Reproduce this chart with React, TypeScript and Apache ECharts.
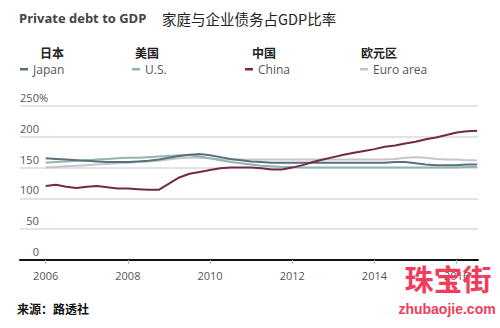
import React, { useEffect, useRef } from "react";
import * as echarts from "echarts";

const quarters = [
  2006, 2006.25, 2006.5, 2006.75, 2007, 2007.25, 2007.5, 2007.75,
  2008, 2008.25, 2008.5, 2008.75, 2009, 2009.25, 2009.5, 2009.75,
  2010, 2010.25, 2010.5, 2010.75, 2011, 2011.25, 2011.5, 2011.75,
  2012, 2012.25, 2012.5, 2012.75, 2013, 2013.25, 2013.5, 2013.75,
  2014, 2014.25, 2014.5, 2014.75, 2015, 2015.25, 2015.5, 2015.75,
  2016, 2016.25, 2016.5,
];

const japan = [
  165, 164, 163, 162, 161, 160, 159, 159,
  159, 160, 161, 163, 166, 169, 171, 172,
  170, 167, 164, 162, 160, 159, 158, 158,
  158, 158, 158, 158, 158, 158, 158, 158,
  158, 158, 159, 159, 157, 155, 154, 154,
  154, 155, 155,
];

const us = [
  158, 159, 160, 161, 162, 163, 164, 165,
  166, 166, 167, 168, 169, 170, 170, 168,
  165, 162, 159, 157, 155, 153, 152, 151,
  151, 150, 150, 150, 150, 150, 150, 150,
  150, 150, 150, 150, 150, 150, 150, 150,
  150, 151, 151,
];

const china = [
  120, 122, 119, 117, 119, 120, 118, 116,
  116, 115, 114, 114, 124, 134, 140, 143,
  146, 149, 150, 150, 150, 149, 147, 147,
  150, 154, 159, 163, 167, 171, 174, 177,
  180, 184, 186, 189, 192, 196, 199, 203,
  207, 209, 210,
];

const euro = [
  150, 151, 152, 153, 154, 155, 156, 157,
  158, 159, 160, 161, 163, 165, 166, 166,
  165, 164, 163, 163, 163, 163, 163, 163,
  163, 163, 163, 163, 163, 163, 163, 163,
  163, 163, 164, 166, 167, 166, 164, 163,
  163, 162, 162,
];

const xTicks = [2006, 2008, 2010, 2012, 2014, 2016];
const legendZh = ["日本", "美国", "中国", "欧元区"];
const legendEn = ["Japan", "U.S.", "China", "Euro area"];
const colors = ["#5b6f7a", "#8fb6b2", "#722a44", "#c6c6c6"];

const FONT = "'Open Sans', 'Noto Sans CJK SC', sans-serif";
const CJK = "'Noto Sans CJK SC', sans-serif";

export default function App() {
  const ref = useRef<HTMLDivElement>(null);

  useEffect(() => {
    const chart = echarts.init(ref.current!, null, { renderer: "svg" });
    const pair = (vals: number[]) => quarters.map((q, i) => [q, vals[i]]);

    const zhX = [52, 147, 264, 379];
    const dashX = [20, 132, 245, 360];
    const graphic: any[] = [
      {
        type: "text",
        x: 19,
        y: 18,
        style: {
          text: "Private debt to GDP",
          fill: "#444",
          fontSize: 13,
          fontWeight: "bold",
          fontFamily: FONT,
          textVerticalAlign: "middle",
        },
      },
      {
        type: "text",
        x: 162,
        y: 18,
        style: {
          text: "家庭与企业债务占GDP比率",
          fill: "#222",
          fontSize: 14.5,
          fontFamily: CJK,
          textVerticalAlign: "middle",
        },
      },
      {
        type: "text",
        x: 17,
        y: 308,
        style: {
          text: "来源：路透社",
          fill: "#111",
          fontSize: 12,
          fontWeight: "bold",
          fontFamily: CJK,
          textVerticalAlign: "middle",
        },
      },
      {
        type: "text",
        x: 448,
        y: 278,
        z: 100,
        style: {
          text: "珠宝街",
          fill: "#ef3d5b",
          fontSize: 29,
          lineHeight: 29,
          fontWeight: "bold",
          fontFamily: CJK,
          textAlign: "center",
          textVerticalAlign: "middle",
        },
      },
      {
        type: "text",
        x: 447,
        y: 309,
        z: 100,
        style: {
          text: "zhubaojie.com",
          fill: "#ef3d5b",
          fontSize: 14,
          lineHeight: 14,
          fontWeight: "bold",
          fontFamily: "'Liberation Sans', Arial, sans-serif",
          textAlign: "center",
          textVerticalAlign: "middle",
        },
      },
    ];
    legendZh.forEach((t, i) => {
      graphic.push({
        type: "text",
        x: zhX[i],
        y: 52,
        style: {
          text: t,
          fill: "#222",
          fontSize: 12,
          fontWeight: "bold",
          fontFamily: CJK,
          textAlign: "center",
          textVerticalAlign: "middle",
        },
      });
      graphic.push({
        type: "rect",
        shape: { x: dashX[i], y: 68, width: 8, height: 2.5 },
        style: { fill: colors[i] },
      });
      graphic.push({
        type: "text",
        x: dashX[i] + 13,
        y: 69.5,
        style: {
          text: legendEn[i],
          fill: "#555",
          fontSize: 12,
          fontFamily: FONT,
          textVerticalAlign: "middle",
        },
      });
    });

    const mk = (name: string, vals: number[], color: string, z: number) => ({
      name,
      type: "line",
      data: pair(vals),
      showSymbol: false,
      symbol: "none",
      z,
      lineStyle: { color, width: 2 },
      itemStyle: { color },
    });

    chart.setOption({
      animation: false,
      backgroundColor: "#fff",
      grid: { left: 20, right: 22, top: 106, bottom: 68, containLabel: false },
      xAxis: {
        type: "value",
        min: 2005.375,
        max: 2016.52,
        axisLine: { show: true, onZero: false, lineStyle: { color: "#111", width: 2 } },
        axisTick: {
          show: true,
          customValues: xTicks,
          length: 4,
          lineStyle: { color: "#bbb", width: 1 },
        },
        axisLabel: {
          customValues: xTicks,
          formatter: (v: number) => String(v),
          color: "#555",
          fontSize: 11,
          fontFamily: FONT,
          margin: 10,
        },
        splitLine: { show: false },
      },
      yAxis: {
        type: "value",
        min: 0,
        max: 250,
        interval: 50,
        axisLine: { show: false },
        axisTick: { show: false },
        splitLine: { show: true, lineStyle: { color: "#dadada", width: 1.5 } },
        axisLabel: {
          inside: true,
          margin: 28,
          align: "right",
          verticalAlign: "bottom",
          padding: [0, 0, 3, 0],
          fontSize: 11,
          fontFamily: FONT,
          formatter: (v: number) =>
            v === 250 ? "{n|250}{p|%}" : "{n|" + v + "}{h|%}",
          rich: {
            n: { color: "#555", fontSize: 11, fontFamily: FONT },
            p: { color: "#555", fontSize: 11, fontFamily: FONT },
            h: { color: "rgba(255,255,255,0)", fontSize: 11, fontFamily: FONT },
          },
        },
      },
      graphic,
      series: [
        mk("Euro area", euro, colors[3], 2),
        mk("U.S.", us, colors[1], 3),
        mk("Japan", japan, colors[0], 4),
        mk("China", china, colors[2], 5),
      ],
    });

    return () => chart.dispose();
  }, []);

  return (
    <div
      ref={ref}
      style={{ position: "fixed", left: 0, top: 0, width: 500, height: 328, background: "#fff" }}
    />
  );
}
